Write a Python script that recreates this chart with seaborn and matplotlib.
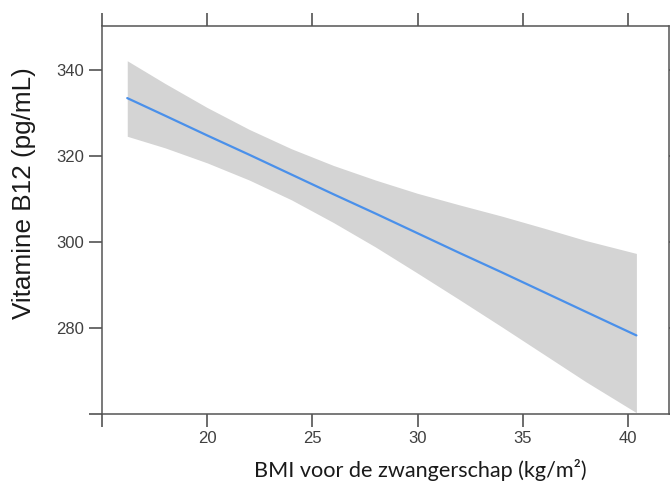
import matplotlib
matplotlib.use("Agg")
import matplotlib.pyplot as plt
import seaborn as sns
import pandas as pd

# BMI values along the effect curve
bmi = [16.2, 18, 20, 22, 24, 26, 28, 30, 32, 34, 36, 38, 40.4]
# fitted vitamin B12
fit = [333.5, 329.4, 324.8, 320.3, 315.7, 311.1, 306.6, 302.0, 297.4, 292.9, 288.3, 283.7, 278.2]
# confidence band
upper = [342.2, 336.9, 331.3, 326.2, 321.7, 317.8, 314.4, 311.3, 308.6, 306.0, 303.2, 300.3, 297.3]
lower = [324.6, 321.9, 318.4, 314.4, 309.8, 304.5, 298.8, 292.7, 286.5, 280.2, 273.8, 267.4, 260.2]

xticks = [15, 20, 25, 30, 35, 40]
xticklabels = ["", "20", "25", "30", "35", "40"]
yticks = [260, 280, 300, 320, 340]
yticklabels = ["", "280", "300", "320", "340"]

df = pd.DataFrame({"bmi": bmi, "fit": fit, "upper": upper, "lower": lower})


def main():
    sns.set_style("white")
    plt.rcParams["font.family"] = ["Liberation Sans", "DejaVu Sans"]

    fig = plt.figure(figsize=(6.7, 4.86), dpi=100)
    ax = fig.add_axes([102 / 670, 1 - 413.5 / 486, 567 / 670, 387.5 / 486])

    ax.fill_between(df["bmi"], df["lower"], df["upper"], color="#d4d4d4", lw=0)
    sns.lineplot(data=df, x="bmi", y="fit", ax=ax, color="#4a90ea", lw=1.6)

    ax.set_xlim(15, 41.95)
    ax.set_ylim(260, 350.3)
    ax.set_xticks(xticks)
    ax.set_xticklabels(xticklabels, family=["Liberation Sans", "DejaVu Sans"])
    ax.set_yticks(yticks)
    ax.set_yticklabels(yticklabels, family=["Liberation Sans", "DejaVu Sans"])

    for s in ax.spines.values():
        s.set_color("#555555")
        s.set_linewidth(1.1)
    ax.tick_params(axis="both", which="both", direction="out", length=9.4, width=1.1,
                   color="#444444", labelsize=12, labelcolor="#404040", pad=3.5,
                   top=True, right=True, bottom=True, left=True)

    ax.set_xlabel("BMI voor de zwangerschap (kg/m²)", fontsize=15.6, family=["Lato", "DejaVu Sans"],
                  color="#1a1a1a")
    ax.set_ylabel("Vitamine B12 (pg/mL)", fontsize=18.8, family=["Liberation Sans", "DejaVu Sans"],
                  color="#1a1a1a")
    ax.xaxis.set_label_coords(0.561, -0.146)
    ax.yaxis.set_label_coords(-0.137, 0.569)
    ax.xaxis.label.set_va("center")
    ax.yaxis.label.set_va("center")

    fig.savefig("out.png", dpi=100)


if __name__ == "__main__":
    main()
